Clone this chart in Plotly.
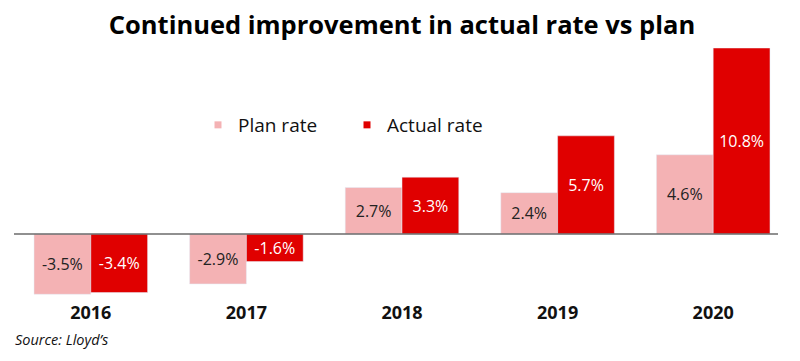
import plotly.graph_objects as go

years = ["2016", "2017", "2018", "2019", "2020"]
plan_rate = [-3.5, -2.9, 2.7, 2.4, 4.6]
actual_rate = [-3.4, -1.6, 3.3, 5.7, 10.8]
plan_labels = [f"{v:.1f}%" for v in plan_rate]
actual_labels = [f"{v:.1f}%" for v in actual_rate]

PLAN_C = "#F4B2B4"
ACT_C = "#E00000"
FONT = "Open Sans"

fig = go.Figure()
fig.add_trace(go.Bar(x=years, y=plan_rate, name="Plan rate", marker_color=PLAN_C,
                     text=plan_labels, textposition="inside", insidetextanchor="middle",
                     textfont=dict(color="#222222", size=16, family=FONT),
                     constraintext="none", showlegend=False))
fig.add_trace(go.Bar(x=years, y=actual_rate, name="Actual rate", marker_color=ACT_C,
                     text=actual_labels, textposition="inside", insidetextanchor="middle",
                     textfont=dict(color="white", size=16, family=FONT),
                     constraintext="none", showlegend=False))
# legend entries
fig.add_trace(go.Scatter(x=[None], y=[None], mode="markers", name="Plan rate",
                         marker=dict(symbol="square", size=7, color=PLAN_C)))
fig.add_trace(go.Scatter(x=[None], y=[None], mode="markers", name="Actual rate",
                         marker=dict(symbol="square", size=7, color=ACT_C)))

# page offset (body margin) compensation
OX, OY = 8, 8
W, H = 800, 361
left, right = 13 - OX, 791 - OX
top, bottom = 48 - OY, 300 - OY
pw, ph = right - left, bottom - top


def px(x):
    return (x - OX - left) / pw


def py(y):
    return (bottom - (y - OY)) / ph


fig.update_layout(
    width=W, height=H,
    margin=dict(l=left, r=W - right, t=top, b=H - bottom, pad=0),
    paper_bgcolor="white", plot_bgcolor="white",
    barmode="group", bargap=0.27, bargroupgap=0,
    font=dict(family=FONT, color="#111111"),
    title=dict(text="Continued improvement in actual rate vs plan", x=(402 - OX) / W, xanchor="center",
               y=1 - (25.5 - OY) / H, yanchor="middle", yref="container",
               font=dict(size=25.5, family=FONT, weight="bold", color="#000000")),
    showlegend=True,
    legend=dict(orientation="h", x=px(198), xanchor="left",
                y=py(125), yanchor="middle",
                font=dict(size=19, family=FONT, color="#111111"),
                bgcolor="rgba(0,0,0,0)", entrywidth=104, itemwidth=30),
    xaxis=dict(showgrid=False, showline=False, zeroline=False, ticks="",
               tickfont=dict(size=18, family=FONT, weight="bold", color="#111111")),
    yaxis=dict(range=[-3.833, 10.8], showgrid=False, zeroline=False, showline=False,
               showticklabels=False, fixedrange=True),
    annotations=[dict(text="Source: Lloyd’s", xref="paper", yref="paper",
                      x=px(13), y=py(339),
                      xanchor="left", yanchor="middle", showarrow=False,
                      font=dict(size=14.5, family=FONT, style="italic", color="#111111"))],
)
fig.add_shape(type="line", xref="paper", yref="y", x0=px(14), x1=px(778), y0=0, y1=0,
              line=dict(color="#6b6b6b", width=1.5), layer="above")

fig.write_html("out.html")
